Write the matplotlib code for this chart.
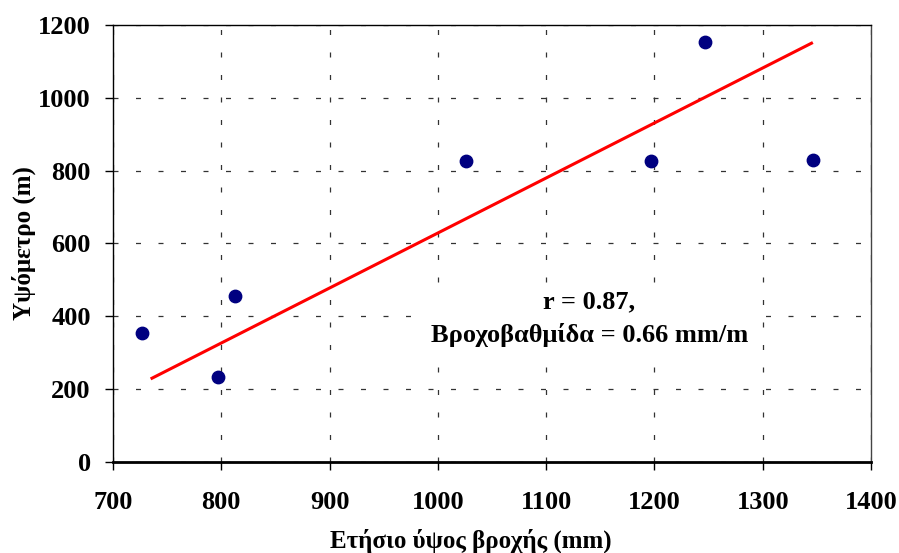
import matplotlib.pyplot as plt

# rainfall (mm) vs altitude (m)
rain = [727, 797, 813, 1026, 1197, 1247, 1346]
altitude = [354, 233, 456, 827, 827, 1154, 830]

# trend line end points
trend_x = [736, 1345]
trend_y = [230, 1150]

xticks = [700, 800, 900, 1000, 1100, 1200, 1300, 1400]
yticks = [0, 200, 400, 600, 800, 1000, 1200]

plt.rcParams['font.family'] = ['Liberation Serif', 'DejaVu Serif']
plt.rcParams['font.weight'] = 'bold'

fig = plt.figure(figsize=(8.99, 5.53), dpi=100)
ax = fig.add_axes([0.1257, 0.1646, 0.9689 - 0.1257, 0.9548 - 0.1646])

ax.plot(trend_x, trend_y, color='#ff0000', lw=2.2, zorder=3)
ax.scatter(rain, altitude, s=80, color='#000080', zorder=4)

ax.set_xlim(700, 1400)
ax.set_ylim(0, 1200)
ax.set_xticks(xticks)
ax.set_yticks(yticks)
ax.tick_params(direction='out', length=6, width=1, labelsize=19)
ax.tick_params(axis='x', pad=15)
ax.tick_params(axis='y', pad=10)
for lab in ax.get_xticklabels() + ax.get_yticklabels():
    lab.set_fontweight('bold')

ax.grid(True, color='#333333', lw=0.9, linestyle=(0, (4, 14)))
ax.set_axisbelow(True)

for side in ['left', 'top', 'right']:
    ax.spines[side].set_linewidth(1)
ax.spines['right'].set_color('#444444')
ax.spines['bottom'].set_linewidth(2)

ax.set_xlabel('Ετήσιο ύψος βροχής (mm)', fontsize=18, fontweight='bold')
ax.xaxis.set_label_coords(0.472, -0.152)
ax.set_ylabel('Υψόμετρο (m)', fontsize=18, fontweight='bold')
ax.yaxis.set_label_coords(-0.102, 0.5)

ax.text(1140, 393, 'r = 0.87,\nΒροχοβαθμίδα = 0.66 mm/m', ha='center', va='center',
        fontsize=19, fontweight='bold', linespacing=1.5,
        bbox=dict(facecolor='white', edgecolor='none', pad=2), zorder=5)

fig.savefig('out.png', dpi=100)
